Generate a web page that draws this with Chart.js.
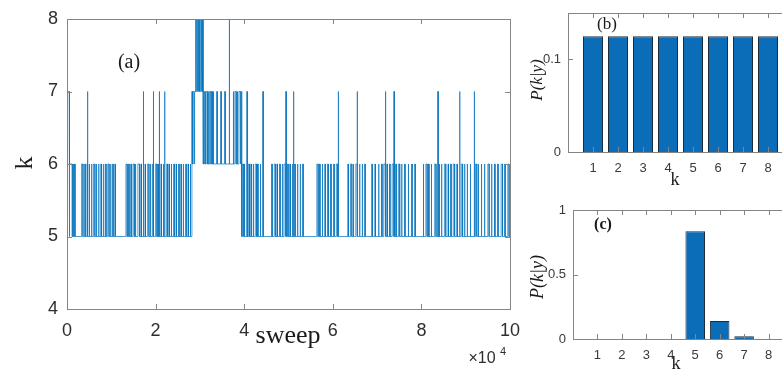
<!DOCTYPE html>
<html>
<head>
<meta charset="utf-8">
<script src="https://cdn.jsdelivr.net/npm/chart.js@4.4.1/dist/chart.umd.min.js"></script>
<style>
  html, body { margin: 0; padding: 0; background: #fff; overflow: hidden; width: 782px; height: 372px; position: relative; }
  canvas { position: absolute; }
</style>
</head>
<body>
<canvas id="ca" width="520" height="372" style="left:0;top:0"></canvas>
<canvas id="cb" width="280" height="190" style="left:520px;top:0"></canvas>
<canvas id="cc" width="280" height="182" style="left:520px;top:190px"></canvas>
<script>
/* k trace over sweeps (x in units of 1e4 sweeps) + prior / posterior of k */

// regimes of the trace: [start, end, base k]
var regimes = [
  [0, 2.82, 5], [2.82, 2.95, 7], [2.95, 3.08, 8], [3.08, 3.95, 6], [3.95, 10, 5]
];
// short visits away from the base level: [start, length, k]
var excursions = [
  [0, 0.05, 7], [0.06, 0.06, 6], [0.14, 0.012, 6], [0.17, 0.012, 6],
  [0.33, 0.03, 6], [0.4, 0.012, 6], [0.45, 0.02, 6], [0.46, 0.01, 7], [0.5, 0.012, 6], [0.55, 0.012, 6],
  [0.6, 0.03, 6], [0.66, 0.012, 6], [0.71, 0.012, 6], [0.76, 0.02, 6], [0.82, 0.012, 6], [0.87, 0.012, 6],
  [0.92, 0.03, 6], [0.98, 0.012, 6], [1.03, 0.012, 6], [1.08, 0.012, 6],
  [1.33, 0.03, 6], [1.39, 0.012, 6], [1.44, 0.012, 6], [1.49, 0.03, 6], [1.54, 0.012, 6], [1.6, 0.04, 6],
  [1.67, 0.012, 6], [1.72, 0.01, 7], [1.76, 0.012, 6], [1.82, 0.03, 6], [1.88, 0.012, 6], [1.93, 0.012, 6],
  [1.95, 0.01, 7], [2.0, 0.03, 6], [2.05, 0.012, 6], [2.08, 0.01, 7], [2.12, 0.012, 6], [2.17, 0.012, 6],
  [2.2, 0.01, 7], [2.25, 0.02, 6], [2.3, 0.012, 6], [2.35, 0.012, 6], [2.41, 0.012, 6], [2.46, 0.012, 6],
  [2.52, 0.012, 6], [2.57, 0.012, 6], [2.62, 0.012, 6], [2.68, 0.012, 6], [2.73, 0.012, 6], [2.78, 0.012, 6],
  [2.83, 0.02, 6], [2.87, 0.015, 6], [2.9, 0.01, 8], [2.925, 0.01, 8],
  [2.965, 0.006, 7], [2.985, 0.006, 7], [3.0, 0.006, 7], [3.015, 0.006, 7], [3.035, 0.006, 7], [3.05, 0.006, 7], [3.065, 0.006, 7],
  [3.1, 0.02, 7], [3.14, 0.03, 7], [3.19, 0.012, 7], [3.22, 0.03, 7], [3.27, 0.012, 7], [3.3, 0.012, 7],
  [3.38, 0.012, 7], [3.47, 0.012, 7], [3.56, 0.012, 7], [3.66, 0.01, 8], [3.75, 0.012, 7], [3.79, 0.03, 7],
  [3.84, 0.012, 7], [3.88, 0.03, 7], [3.92, 0.012, 7],
  [3.96, 0.03, 6], [4.0, 0.012, 6], [4.06, 0.01, 7], [4.1, 0.02, 6], [4.15, 0.012, 6], [4.2, 0.012, 6],
  [4.25, 0.03, 6], [4.3, 0.012, 6], [4.36, 0.012, 6], [4.42, 0.01, 7],
  [4.62, 0.012, 6], [4.68, 0.03, 6], [4.74, 0.012, 6], [4.8, 0.012, 6], [4.86, 0.012, 6], [4.9, 0.03, 6],
  [4.94, 0.01, 7], [4.98, 0.012, 6], [5.03, 0.012, 6], [5.08, 0.02, 6], [5.11, 0.01, 7], [5.14, 0.012, 6],
  [5.2, 0.012, 6], [5.26, 0.012, 6], [5.32, 0.012, 6],
  [5.64, 0.03, 6], [5.7, 0.012, 6], [5.76, 0.012, 6], [5.82, 0.012, 6], [5.88, 0.02, 6], [5.95, 0.012, 6],
  [6.02, 0.012, 6], [6.08, 0.03, 6], [6.12, 0.01, 7],
  [6.34, 0.012, 6], [6.4, 0.03, 6], [6.46, 0.012, 6], [6.52, 0.03, 6], [6.55, 0.01, 7], [6.6, 0.012, 6],
  [6.66, 0.012, 6], [6.72, 0.012, 6], [6.88, 0.012, 6], [6.95, 0.012, 6], [7.03, 0.012, 6],
  [7.1, 0.012, 6], [7.15, 0.03, 6], [7.19, 0.01, 7], [7.22, 0.012, 6], [7.28, 0.012, 6], [7.34, 0.03, 6],
  [7.38, 0.01, 7], [7.42, 0.012, 6], [7.48, 0.03, 6], [7.55, 0.012, 6], [7.62, 0.012, 6], [7.7, 0.012, 6],
  [7.78, 0.012, 6], [7.85, 0.012, 6],
  [8.04, 0.012, 6], [8.1, 0.03, 6], [8.16, 0.012, 6], [8.22, 0.012, 6], [8.3, 0.03, 6], [8.37, 0.01, 7],
  [8.4, 0.012, 6], [8.45, 0.012, 6], [8.52, 0.03, 6], [8.6, 0.012, 6], [8.66, 0.012, 6], [8.72, 0.03, 6],
  [8.8, 0.012, 6], [8.86, 0.01, 7], [8.9, 0.03, 6], [8.97, 0.012, 6], [9.03, 0.012, 6], [9.1, 0.012, 6],
  [9.19, 0.01, 7], [9.22, 0.03, 6], [9.28, 0.012, 6], [9.35, 0.012, 6], [9.42, 0.012, 6], [9.5, 0.03, 6],
  [9.58, 0.012, 6], [9.65, 0.012, 6], [9.72, 0.012, 6], [9.8, 0.03, 6], [9.88, 0.012, 6], [9.95, 0.03, 6]
];

var traceXTicks = [0, 2, 4, 6, 8, 10];
var traceYTicks = [4, 5, 6, 7, 8];

var kCats = [1, 2, 3, 4, 5, 6, 7, 8];
var probPrior = [0.125, 0.125, 0.125, 0.125, 0.125, 0.125, 0.125, 0.125];
var probPost = [0, 0, 0, 0, 0.835, 0.14, 0.022, 0];
var priorYTicks = [0, 0.1];
var postYTicks = [0, 0.5, 1];

var BLUE = '#0072BD';
var BAR = '#0b6db8', BAR_EDGE = '#1d2c3a';
var TICK_C = '#2e2e2e', BOX_C = '#858585';
var SANS = '"Liberation Sans", Arial, sans-serif';
var SERIF = '"Liberation Serif", "Times New Roman", serif';

// build the step path of the trace from regimes + excursions
function tracePoints() {
  var pts = [];
  regimes.forEach(function (r) {
    var base = r[2];
    pts.push({ x: r[0], y: base });
    excursions.forEach(function (e) {
      if (e[0] < r[0] || e[0] >= r[1]) return;
      pts.push({ x: e[0], y: base }, { x: e[0], y: e[2] }, { x: e[0] + e[1], y: e[2] }, { x: e[0] + e[1], y: base });
    });
    pts.push({ x: r[1], y: base });
  });
  return pts;
}

// box + inward tick marks (matlab style)
var frame = {
  id: 'frame',
  afterDatasetsDraw: function (c) {
    var a = c.chartArea, ctx = c.ctx, sx = c.scales.x, sy = c.scales.y, L = 5;
    ctx.save();
    ctx.strokeStyle = BOX_C; ctx.lineWidth = 1;
    ctx.beginPath();
    sx.ticks.forEach(function (t) {
      var p = Math.round(sx.getPixelForValue(t.value)) + 0.5;
      ctx.moveTo(p, a.bottom); ctx.lineTo(p, a.bottom - L);
      ctx.moveTo(p, a.top); ctx.lineTo(p, a.top + L);
    });
    sy.ticks.forEach(function (t) {
      var p = Math.round(sy.getPixelForValue(t.value)) + 0.5;
      ctx.moveTo(a.left, p); ctx.lineTo(a.left + L, p);
      ctx.moveTo(a.right, p); ctx.lineTo(a.right - L, p);
    });
    ctx.stroke();
    ctx.strokeRect(Math.round(a.left) + 0.5, Math.round(a.top) + 0.5, Math.round(a.width), Math.round(a.height));
    ctx.restore();
  }
};

// free text labels (axis names, panel tags)
var texts = {
  id: 'texts',
  afterDraw: function (c, args, opts) {
    var ctx = c.ctx;
    (opts.items || []).forEach(function (t) {
      ctx.save();
      ctx.translate(t.x, t.y);
      if (t.rot) ctx.rotate(t.rot);
      ctx.font = t.font; ctx.fillStyle = t.color || '#1a1a1a';
      ctx.textAlign = t.align || 'center'; ctx.textBaseline = 'middle';
      ctx.fillText(t.text, 0, 0);
      ctx.restore();
    });
  }
};

function fixTicks(list) {
  return function (s) { s.ticks = list.map(function (v) { return { value: v }; }); };
}
function fitW(w) {
  return function (s) { s.width = w; s.paddingTop = 0; s.paddingBottom = 0; };
}
function fitH(h) {
  return function (s) { s.height = h; s.paddingLeft = 0; s.paddingRight = 0; };
}
function plain(v) { return String(v); }

Chart.defaults.animation = false;
Chart.defaults.color = TICK_C;

// (a) trace
new Chart(document.getElementById('ca'), {
  type: 'line',
  data: { datasets: [{ data: tracePoints(), borderColor: BLUE, borderWidth: 0.7, pointRadius: 0, tension: 0, fill: false }] },
  plugins: [frame, texts],
  options: {
    responsive: false,
    layout: { padding: { top: 19, right: 10, left: 0, bottom: 0 } },
    plugins: {
      legend: { display: false }, tooltip: { enabled: false },
      texts: { items: [
        { text: 'k', x: 25, y: 163, font: '26px ' + SERIF, rot: -Math.PI / 2 },
        { text: 'sweep', x: 288, y: 336, font: '26px ' + SERIF },
        { text: '×10', x: 482, y: 359, font: '16px ' + SANS, color: TICK_C },
        { text: '4', x: 503, y: 352, font: '11px ' + SANS, color: TICK_C },
        { text: '(a)', x: 129, y: 63, font: '20px ' + SERIF }
      ] }
    },
    scales: {
      x: {
        type: 'linear', min: 0, max: 10,
        afterBuildTicks: fixTicks(traceXTicks), afterFit: fitH(63),
        grid: { display: false, drawTicks: false }, border: { display: false },
        ticks: { font: { family: SANS, size: 18 }, padding: 11, maxRotation: 0, callback: plain }
      },
      y: {
        min: 4, max: 8,
        afterBuildTicks: fixTicks(traceYTicks), afterFit: fitW(67),
        grid: { display: false, drawTicks: false }, border: { display: false },
        ticks: { font: { family: SANS, size: 18 }, padding: 9, callback: plain }
      }
    }
  }
});

function barChart(id, probs, yMax, yTicks, yW, padTop, xH, items) {
  return new Chart(document.getElementById(id), {
    type: 'bar',
    data: { datasets: [{
      data: kCats.map(function (k, i) { return { x: k, y: probs[i] }; }),
      backgroundColor: BAR, borderColor: BAR_EDGE, borderWidth: 1,
      barPercentage: 0.8, categoryPercentage: 1
    }] },
    plugins: [frame, texts],
    options: {
      responsive: false,
      layout: { padding: { top: padTop, right: 7, left: 0, bottom: 0 } },
      plugins: { legend: { display: false }, tooltip: { enabled: false }, texts: { items: items } },
      scales: {
        x: {
          type: 'linear', min: 0, max: 9, offset: false,
          afterBuildTicks: fixTicks(kCats), afterFit: fitH(xH),
          grid: { display: false, drawTicks: false }, border: { display: false },
          ticks: { font: { family: SANS, size: 13 }, padding: 9, maxRotation: 0, color: '#3a3a3a', callback: plain }
        },
        y: {
          min: 0, max: yMax,
          afterBuildTicks: fixTicks(yTicks), afterFit: fitW(yW),
          grid: { display: false, drawTicks: false }, border: { display: false },
          ticks: { font: { family: SANS, size: 13 }, padding: 7, color: '#3a3a3a', callback: plain }
        }
      }
    }
  });
}

// (b) prior
barChart('cb', probPrior, 0.15, priorYTicks, 48, 13, 38, [
  { text: 'P(k|y)', x: 18, y: 80, font: 'italic 17px ' + SERIF, rot: -Math.PI / 2 },
  { text: 'k', x: 155, y: 180, font: '18px ' + SERIF },
  { text: '(b)', x: 87, y: 25, font: '17px ' + SERIF }
]);

// (c) posterior
barChart('cc', probPost, 1, postYTicks, 53, 20, 33, [
  { text: 'P(k|y)', x: 18, y: 87, font: 'italic 18px ' + SERIF, rot: -Math.PI / 2 },
  { text: 'k', x: 156, y: 174, font: '18px ' + SERIF },
  { text: '(c)', x: 83, y: 35, font: 'bold 16px ' + SERIF }
]);
</script>
</body>
</html>
